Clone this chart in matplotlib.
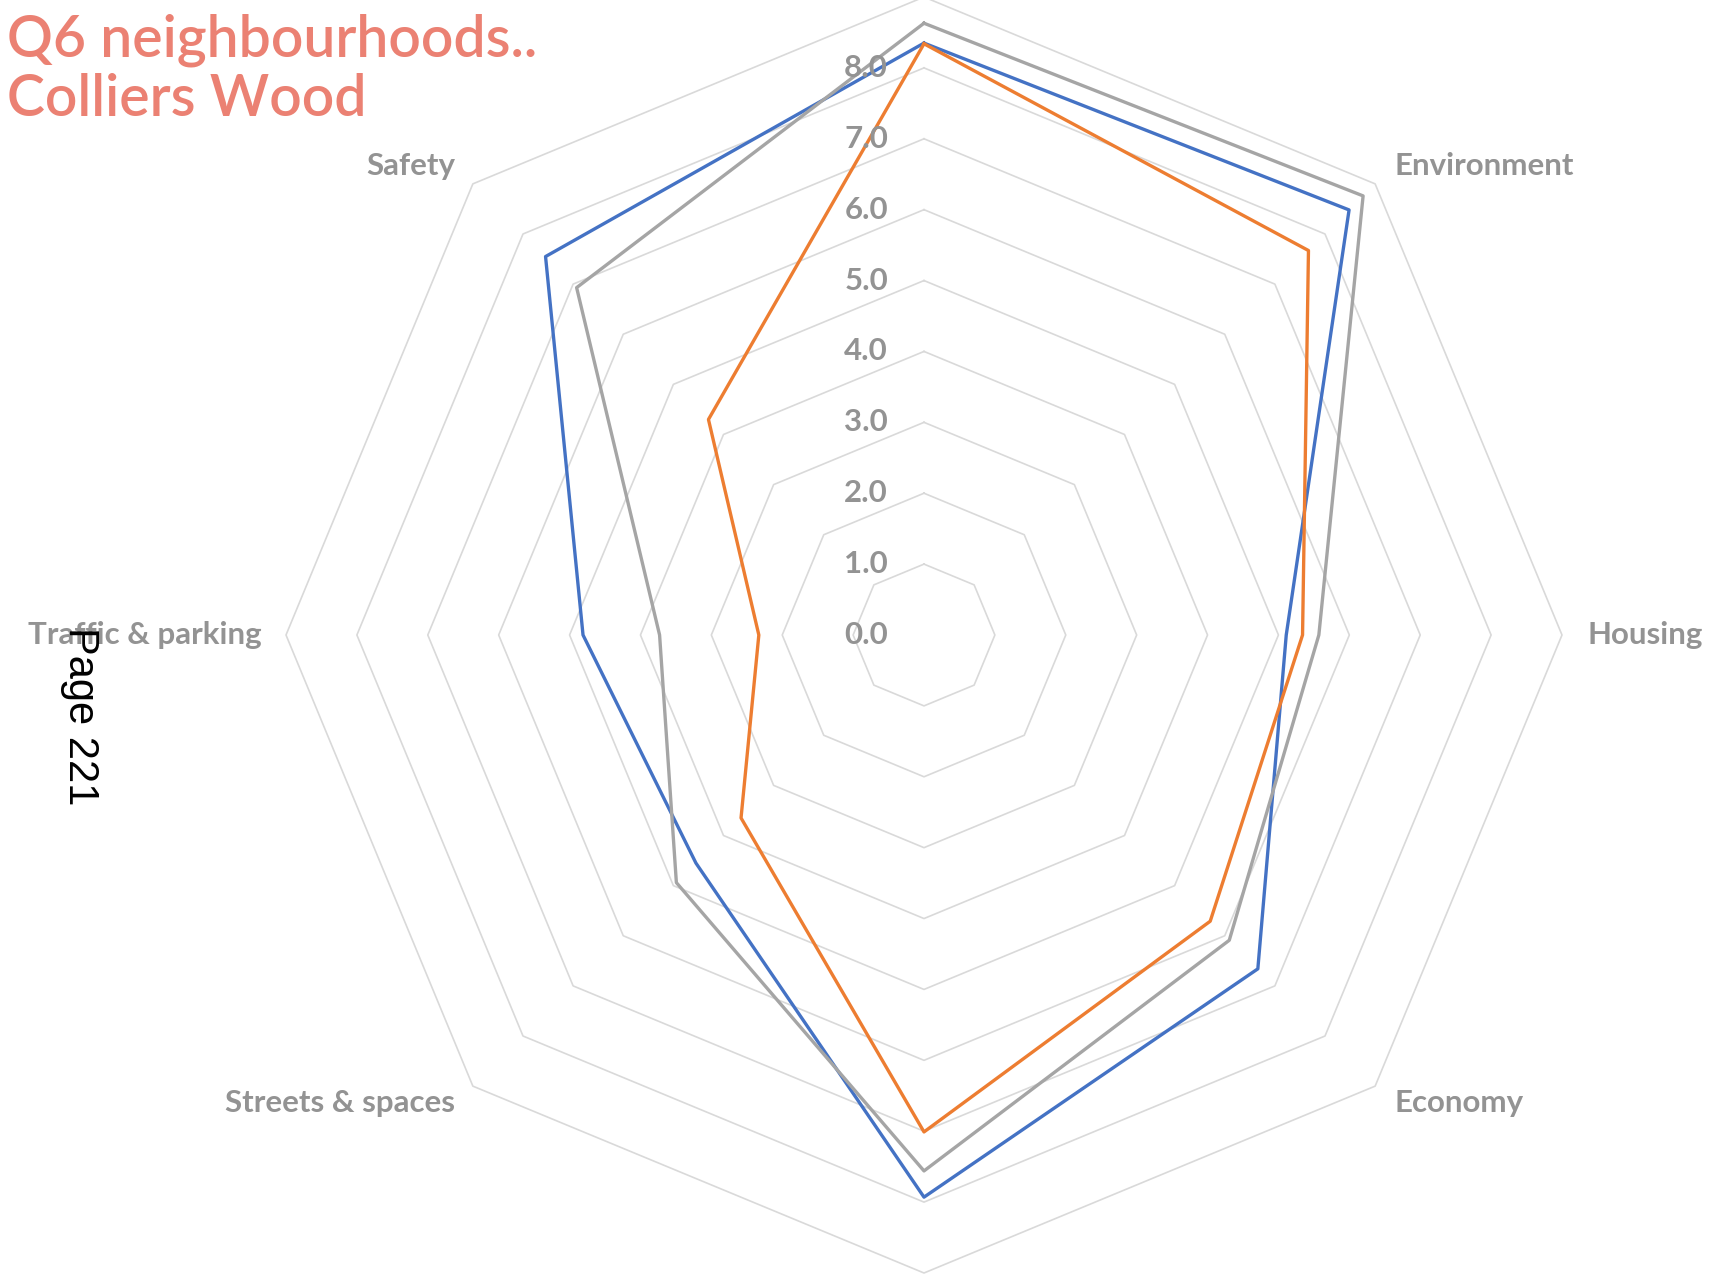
import numpy as np
import matplotlib
matplotlib.use('Agg')
import matplotlib.pyplot as plt
from matplotlib.transforms import offset_copy

# axes go clockwise from the top; top and bottom labels fall outside the picture
categories = ['', 'Environment', 'Housing', 'Economy', '', 'Streets & spaces', 'Traffic & parking', 'Safety']
blue = [8.35, 8.48, 5.11, 6.66, 7.93, 4.55, 4.81, 7.55]
orange = [8.34, 7.67, 5.34, 5.71, 7.01, 3.65, 2.33, 4.30]
grey = [8.63, 8.76, 5.57, 6.09, 7.56, 4.94, 3.73, 6.93]
rings = [1, 2, 3, 4, 5, 6, 7, 8, 9]
tick_vals = [0, 1, 2, 3, 4, 5, 6, 7, 8]

fig = plt.figure(figsize=(17.29, 12.82), dpi=100)
ax = fig.add_axes([286 / 1729, 9 / 1282, 1276 / 1729, 1276 / 1282], projection='polar')
ax.set_theta_zero_location('N')
ax.set_theta_direction(-1)
ax.set_ylim(0, 9)
ax.grid(False)
ax.spines['polar'].set_visible(False)
ax.set_xticks([])
ax.set_yticks([])
ax.patch.set_alpha(0)

n = len(categories)
angles = np.arange(n + 1) * 2 * np.pi / n

# octagon grid
for r in rings:
    ax.plot(angles, [r] * (n + 1), color='#D9D9D9', lw=1.2, zorder=1, clip_on=False)

for vals, col in [(blue, '#4472C4'), (orange, '#ED7D31'), (grey, '#A5A5A5')]:
    ax.plot(angles, vals + vals[:1], color=col, lw=2.4, zorder=3)

lab_font = dict(family='Lato', fontsize=22.5, fontweight='bold', color='#939393')

# value labels left of the top spoke
tr = offset_copy(ax.transData, fig=fig, x=-36, y=0, units='dots')
for v in tick_vals:
    ax.text(0, v, '%.1f' % v, transform=tr, ha='right', va='center', **lab_font)

# category labels
offsets = {'Environment': (19, 18, 'left'), 'Housing': (26, 0, 'left'),
           'Economy': (19, -17, 'left'), 'Streets & spaces': (-18, -17, 'right'),
           'Traffic & parking': (-24, 0, 'right'), 'Safety': (-18, 18, 'right')}
for a, c in zip(angles, categories):
    if c == '':
        continue
    dx, dy, ha = offsets[c]
    t = offset_copy(ax.transData, fig=fig, x=dx, y=dy, units='dots')
    ax.text(a, 9, c, transform=t, ha=ha, va='center', **lab_font)

fig.text(7 / 1729, 1 - 40 / 1282, 'Q6 neighbourhoods..', family='Lato', fontsize=41,
         fontweight='semibold', color='#EB8173', ha='left', va='center')
fig.text(7 / 1729, 1 - 100 / 1282, 'Colliers Wood', family='Lato', fontsize=41,
         fontweight='semibold', color='#EB8173', ha='left', va='center')

fig.text(80 / 1729, 1 - 716 / 1282, 'Page 221', family='Liberation Sans', fontsize=30,
         color='black', rotation=270, ha='center', va='center')

fig.savefig('out.png', dpi=100)
